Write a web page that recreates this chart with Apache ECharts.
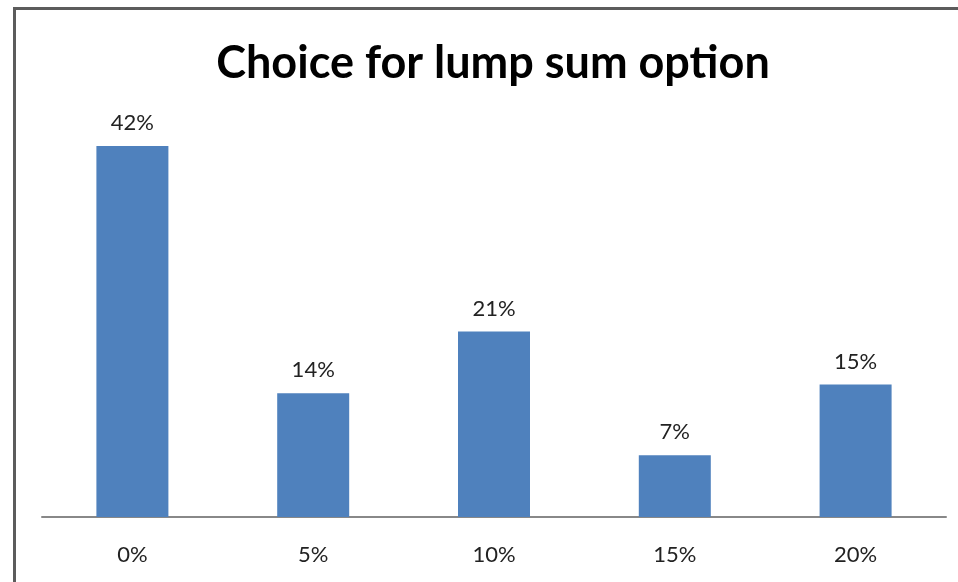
<!DOCTYPE html>
<html><head><meta charset="utf-8">
<script src="https://cdn.jsdelivr.net/npm/echarts@6/dist/echarts.min.js"></script>
<style>html,body{margin:0;padding:0;background:#fff}#c{width:958px;height:582px}</style>
</head><body><div id="c"></div>
<script>
const categories = ['0%', '5%', '10%', '15%', '20%'];
const values = [42, 14, 21, 7, 15];
const titleText = 'Choice for lump sum option';

const chart = echarts.init(document.getElementById('c'));
chart.setOption({
  animation: false,
  backgroundColor: '#fff',
  graphic: [{
    type: 'rect', left: 12, top: 6, silent: true,
    shape: { width: 1100, height: 1100 },
    style: { fill: 'none', stroke: '#5c5c5c', lineWidth: 3 }
  }],
  title: {
    text: titleText, left: 488, top: 36, textAlign: 'center',
    textStyle: { fontFamily: 'Lato', fontWeight: 'bold', fontSize: 45, color: '#000' }
  },
  grid: { left: 42, right: 12, top: 119.5, bottom: 65 },
  xAxis: {
    type: 'category', data: categories,
    axisLine: { lineStyle: { color: '#888', width: 2 } },
    axisTick: { show: false },
    axisLabel: { fontFamily: 'Lato', fontSize: 22, color: '#222', margin: 27 }
  },
  yAxis: { type: 'value', min: 0, max: 45, show: false },
  series: [{
    type: 'bar', data: values, barWidth: 72,
    itemStyle: { color: '#4f81bd' },
    label: { show: true, position: 'top', distance: 12, formatter: '{c}%',
      fontFamily: 'Lato', fontSize: 22, color: '#222' }
  }]
});
</script></body></html>
